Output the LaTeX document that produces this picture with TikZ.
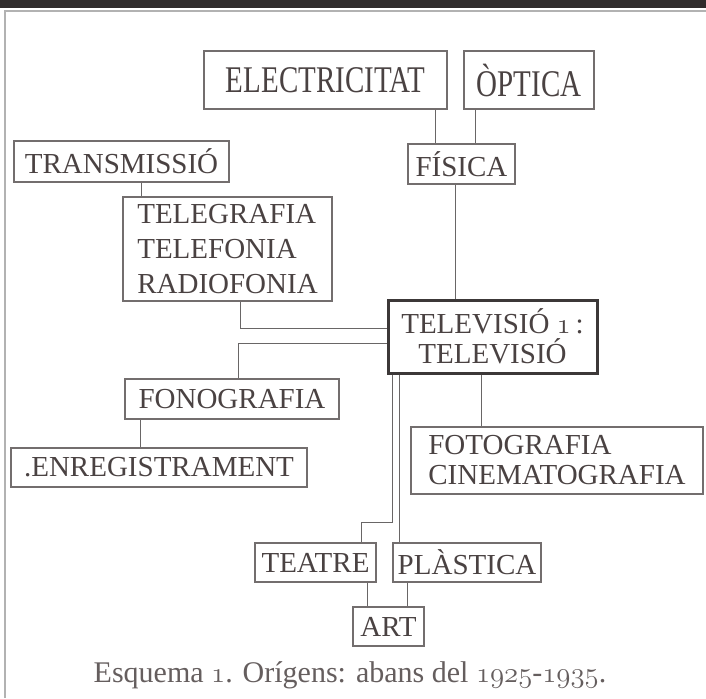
\documentclass[tikz,border=0pt]{standalone}
\usepackage{fontspec}
\setmainfont{Liberation Serif}
\usepackage{tikz}
\newcommand{\tallcaps}[1]{\scalebox{1}[1.3]{#1}}
\newcommand{\osf}[1]{{\usefont{OML}{cmm}{m}{it}#1}}

\begin{document}
\begin{tikzpicture}[x=0.5pt, y=-0.5pt, font=\fontsize{14.5}{15}\selectfont,
        box/.style={draw=framegray, text=inkgray, line width=0.6pt, inner sep=0pt},
        mainbox/.style={box, draw=darkframe, line width=1.5pt},
        conn/.style={draw=linegray, line width=0.5pt}]
        % Define colors
        \definecolor{inkgray}{RGB}{74,66,66}
        \definecolor{framegray}{RGB}{115,110,110}
        \definecolor{darkframe}{RGB}{60,56,56}
        \definecolor{linegray}{RGB}{105,102,102}
        \definecolor{bandgray}{RGB}{48,44,44}

        % Page frame
        \useasboundingbox (0,0) rectangle (706,698);
        \fill[bandgray] (0,0) rectangle (706,8);
        \draw[gray!60, line width=0.9pt] (5,698) -- (5,11) -- (706,11);

        % Nodes
        \node[box, minimum width=121.5pt, minimum height=29pt] (elec) at (325.5,80) {\tallcaps{ELECTRICITAT}};
        \node[box, minimum width=65pt, minimum height=29pt] (optica) at (529,80) {\tallcaps{ÒPTICA}};
        \node[box, minimum width=53.5pt, minimum height=20pt] (fisica) at (461.5,164) {FÍSICA};
        \node[box, minimum width=107.5pt, minimum height=20.5pt] (transm) at (121.5,161.5) {TRANSMISSIÓ};
        \node[box, minimum width=104.5pt, minimum height=52pt, align=left, font=\fontsize{14.5}{17.5}\selectfont] (telegr) at (227.5,249) {TELEGRAFIA\\TELEFONIA\\RADIOFONIA};
        \node[mainbox, minimum width=104.5pt, minimum height=36.5pt, align=center] (telev) at (492.5,336.5) {TELEVISIÓ \osf{1}\,:\\TELEVISIÓ};
        \node[box, minimum width=107pt, minimum height=20pt] (fonogr) at (232,399) {FONOGRAFIA};
        \node[box, minimum width=148pt, minimum height=19.5pt] (enreg) at (159,467.5) {.ENREGISTRAMENT};
        \node[box, minimum width=146pt, minimum height=33.5pt, align=left] (foto) at (557,460.5) {FOTOGRAFIA\\CINEMATOGRAFIA};
        \node[box, minimum width=60.5pt, minimum height=19.5pt] (teatre) at (315.5,562.5) {TEATRE};
        \node[box, minimum width=74pt, minimum height=19.5pt] (plast) at (467,562.5) {PLÀSTICA};
        \node[box, minimum width=35.5pt, minimum height=19.5pt] (art) at (388.5,626.5) {ART};

        \node[text=inkgray!85, font=\fontsize{15}{17}\selectfont] (caption) at (350,675) {Esquema \osf{1}. Orígens: abans del \osf{1925}-\osf{1935}.};

        % Edges
        \draw[conn] ([xshift=-6pt]elec.south east) -- ([xshift=-6pt]elec.south east |- fisica.north);
        \draw[conn] ([xshift=6pt]optica.south west) -- ([xshift=6pt]optica.south west |- fisica.north);
        \draw[conn] ([xshift=-3pt]fisica.south) -- ([xshift=-3pt]fisica.south |- telev.north);
        \draw[conn] ([xshift=64pt]transm.south west) -- ([xshift=64pt]transm.south west |- telegr.north);
        \draw[conn] ([xshift=-46pt]telegr.south east) |- ([yshift=4.25pt]telev.west);
        \draw[conn] ([yshift=-3.25pt]telev.west) -| ([xshift=57pt]fonogr.north west);
        \draw[conn] ([xshift=8pt]fonogr.south west) -- ([xshift=8pt]fonogr.south west |- enreg.north);
        \draw[conn] ([xshift=-5.75pt]telev.south) -- ([xshift=-5.75pt]telev.south |- foto.north);
        \draw[conn] ([xshift=3pt]telev.south west) |- ([xshift=22.75pt,yshift=10pt]teatre.north) -- ([xshift=22.75pt]teatre.north);
        \draw[conn] ([xshift=6.5pt]telev.south west) -- ([xshift=6.5pt]telev.south west |- plast.north);
        \draw[conn] ([xshift=-4.5pt]teatre.south east) -- ([xshift=-4.5pt]teatre.south east |- art.north);
        \draw[conn] ([xshift=7.5pt]plast.south west) -- ([xshift=7.5pt]plast.south west |- art.north);
    \end{tikzpicture}
\end{document}
